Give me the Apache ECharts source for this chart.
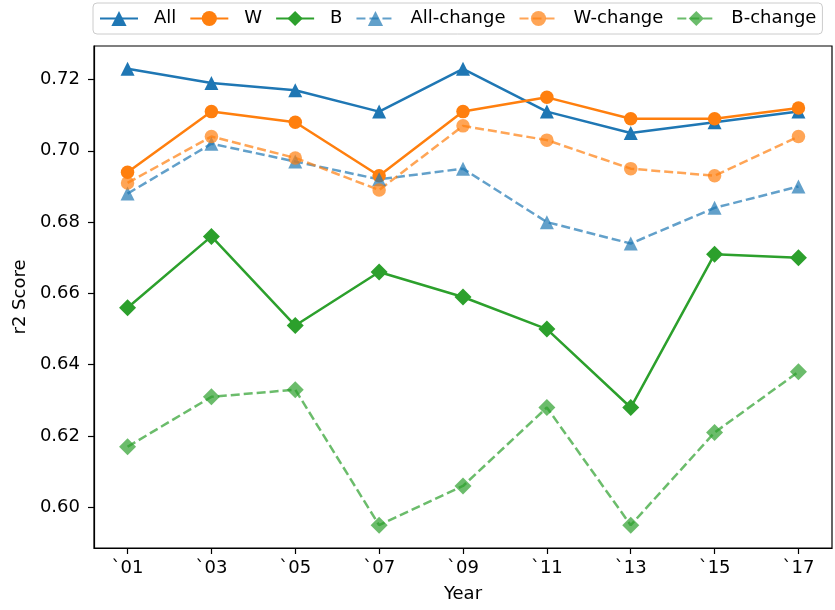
<!DOCTYPE html>
<html>
<head>
<meta charset="utf-8">
<script src="https://cdn.jsdelivr.net/npm/echarts@6/dist/echarts.min.js"></script>
<style>
  html, body { margin: 0; padding: 0; background: #fff; }
  #chart { width: 835px; height: 610px; }
</style>
</head>
<body>
<div id="chart"></div>
<script>
// Survey years along the x axis
const years = ['`01', '`03', '`05', '`07', '`09', '`11', '`13', '`15', '`17'];

// r2 scores per group
const allScores = [0.723, 0.719, 0.717, 0.711, 0.723, 0.711, 0.705, 0.708, 0.711];
const wScores = [0.694, 0.711, 0.708, 0.693, 0.711, 0.715, 0.709, 0.709, 0.712];
const bScores = [0.656, 0.676, 0.651, 0.666, 0.659, 0.650, 0.628, 0.671, 0.670];
const allChangeScores = [0.688, 0.702, 0.697, 0.692, 0.695, 0.680, 0.674, 0.684, 0.690];
const wChangeScores = [0.691, 0.704, 0.698, 0.689, 0.707, 0.703, 0.695, 0.693, 0.704];
const bChangeScores = [0.617, 0.631, 0.633, 0.595, 0.606, 0.628, 0.595, 0.621, 0.638];

// Y axis tick values
const yTicks = [0.60, 0.62, 0.64, 0.66, 0.68, 0.70, 0.72];

const FONT = 'DejaVu Sans';
const BLUE = '#1f77b4', ORANGE = '#ff7f0e', GREEN = '#2ca02c';

const xIdx = years.map((_, i) => i);
const pts = arr => arr.map((v, i) => [i, v]);

function makeSeries(name, values, color, symbol, size, dashed) {
  const op = dashed ? 0.7 : 1;
  return {
    name: name,
    type: 'line',
    data: pts(values),
    symbol: symbol,
    symbolSize: size,
    lineStyle: { color: color, width: 2.5, type: dashed ? [9, 4] : 'solid', opacity: op },
    itemStyle: { color: color, opacity: op },
    emphasis: { disabled: true },
    animation: false
  };
}

const chart = echarts.init(document.getElementById('chart'), null, { renderer: 'canvas' });

chart.setOption({
  backgroundColor: '#ffffff',
  animation: false,
  textStyle: { fontFamily: FONT },
  legend: {
    left: 93,
    top: 3,
    width: 730,
    padding: [6.5, 6, 6.5, 6],
    itemGap: 13,
    itemWidth: 38,
    itemHeight: 19,
    borderColor: '#cccccc',
    borderWidth: 1,
    borderRadius: 4,
    textStyle: { fontFamily: FONT, fontSize: 18, color: '#000', padding: [0, 0, 0, 11] },
    data: ['All', 'W', 'B', 'All-change', 'W-change', 'B-change']
  },
  grid: {
    left: 94, top: 46, width: 738, height: 502,
    show: true, borderColor: '#000', borderWidth: 1.2, backgroundColor: 'transparent',
    containLabel: false
  },
  xAxis: {
    type: 'value',
    min: -0.4,
    max: 8.4,
    name: 'Year',
    nameLocation: 'middle',
    nameGap: 37,
    nameTextStyle: { fontFamily: FONT, fontSize: 18, color: '#000' },
    axisLine: { show: true, onZero: false, lineStyle: { color: '#000', width: 1.2 } },
    axisTick: { show: true, length: 6, lineStyle: { color: '#000', width: 1.2 }, customValues: xIdx },
    axisLabel: {
      fontFamily: FONT, fontSize: 18, color: '#000', margin: 11,
      customValues: xIdx,
      formatter: v => years[Math.round(v)]
    },
    splitLine: { show: false }
  },
  yAxis: {
    type: 'value',
    min: 0.5886,
    max: 0.7294,
    name: 'r2 Score',
    nameLocation: 'middle',
    nameGap: 60,
    nameTextStyle: { fontFamily: FONT, fontSize: 18, color: '#000' },
    axisLine: { show: true, onZero: false, lineStyle: { color: '#000', width: 1.2 } },
    axisTick: { show: true, length: 6, lineStyle: { color: '#000', width: 1.2 }, customValues: yTicks },
    axisLabel: {
      fontFamily: FONT, fontSize: 18, color: '#000', margin: 14,
      customValues: yTicks,
      formatter: v => v.toFixed(2)
    },
    splitLine: { show: false }
  },
  series: [
    makeSeries('All', allScores, BLUE, 'triangle', 14, false),
    makeSeries('W', wScores, ORANGE, 'circle', 13.5, false),
    makeSeries('B', bScores, GREEN, 'diamond', 17, false),
    makeSeries('All-change', allChangeScores, BLUE, 'triangle', 14, true),
    makeSeries('W-change', wChangeScores, ORANGE, 'circle', 13.5, true),
    makeSeries('B-change', bChangeScores, GREEN, 'diamond', 17, true)
  ]
});
</script>
</body>
</html>
